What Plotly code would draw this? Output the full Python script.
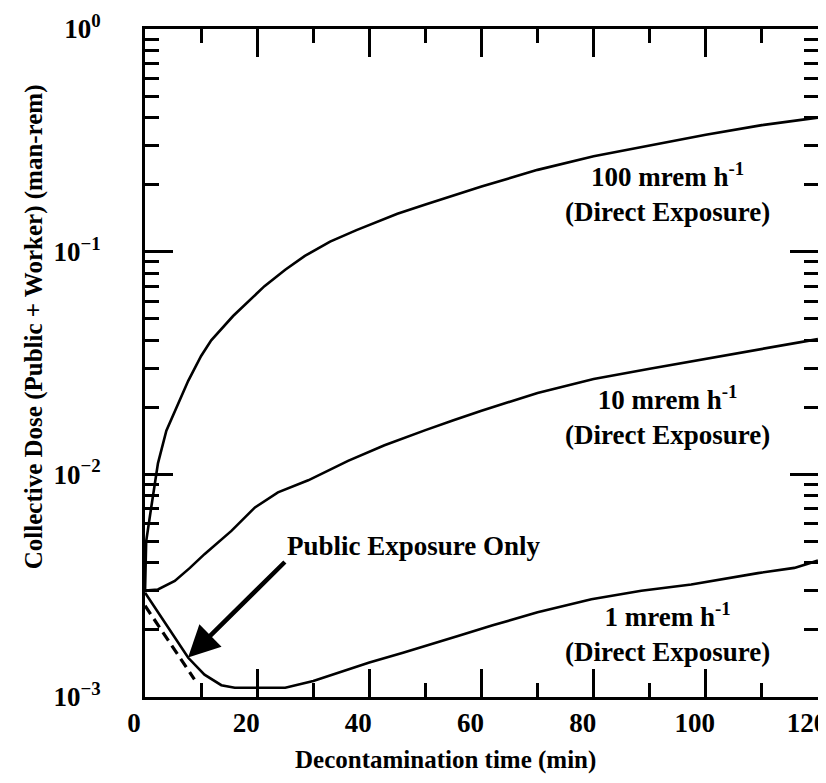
import plotly.graph_objects as go

# ---- data ----
x_100 = [0, 0.2, 1.1, 2.3, 3.8, 5.6, 7.7, 10, 11.8, 15.7, 21.3, 25, 28.5, 33, 37.7, 45, 50, 60, 70, 80, 90,
         100, 110, 120]
y_100 = [0.003, 0.005, 0.0071, 0.0112, 0.0157, 0.020, 0.0263, 0.034, 0.040, 0.0514, 0.070, 0.083, 0.0957,
         0.111, 0.125, 0.148, 0.163, 0.196, 0.233, 0.268, 0.300, 0.335, 0.370, 0.40]

x_10 = [0, 2.3, 5.3, 8, 10.6, 15.4, 19.6, 23.7, 29.1, 36.2, 42.7, 46.9, 50, 55, 60, 70, 80, 90, 100, 110, 120]
y_10 = [0.00301, 0.00304, 0.00332, 0.0038, 0.00438, 0.00557, 0.0071, 0.0083, 0.0094, 0.0115, 0.0135, 0.0148,
        0.0158, 0.0175, 0.0193, 0.0232, 0.0268, 0.0298, 0.0330, 0.0368, 0.0405]

x_1 = [0, 4, 7.7, 10.6, 13.6, 16, 20, 25, 30, 35, 40, 46, 50, 55.8, 62, 70, 79.6, 88.5, 97.4, 103.3, 109.3,
       115.8, 120]
y_1 = [0.00294, 0.00207, 0.0015, 0.00126, 0.00113, 0.0011, 0.0011, 0.0011, 0.00118, 0.0013, 0.00143, 0.00158,
       0.0017, 0.00188, 0.0021, 0.0024, 0.00275, 0.003, 0.0032, 0.0034, 0.0036, 0.0038, 0.0041]

x_public = [0, 8.8]
y_public = [0.00257, 0.0012]

x_ticks = [0, 20, 40, 60, 80, 100, 120]
x_ticktext = ["0", "20", "40", "60", "80", "100", "120"]
x_minor = [10, 30, 50, 70, 90, 110]
y_ticks = [0.001, 0.01, 0.1, 1]
y_ticktext = ["10<sup>−3</sup>", "10<sup>−2</sup>", "10<sup>−1</sup>", "10<sup>0</sup>"]
y_minor = [m * 10.0 ** e for e in (-3, -2, -1) for m in range(2, 10)]

FONT = "Liberation Serif, Times New Roman, Times, serif"


def b(s):
    return "<b>" + s + "</b>"


fig = go.Figure()
line = dict(color="black", width=2.6)
fig.add_trace(go.Scatter(x=x_100, y=y_100, mode="lines", line=line, showlegend=False))
fig.add_trace(go.Scatter(x=x_10, y=y_10, mode="lines", line=line, showlegend=False))
fig.add_trace(go.Scatter(x=x_1, y=y_1, mode="lines", line=line, showlegend=False))
fig.add_trace(go.Scatter(x=x_public, y=y_public, mode="lines",
                         line=dict(color="black", width=3.2, dash="10px,6px"), showlegend=False))

axis_common = dict(showline=True, linecolor="black", linewidth=3, mirror="allticks",
                   ticks="inside", ticklen=28, tickwidth=3, tickcolor="black",
                   showgrid=False, zeroline=False, automargin=False, ticklabeloverflow="allow",
                   tickfont=dict(family=FONT, size=27, color="black"))

fig.update_xaxes(range=[-0.01, 120.01], tickvals=x_ticks, ticktext=[b(t) for t in x_ticktext],
                 ticklabelshift=-11,
                 minor=dict(tickvals=x_minor, ticks="inside", ticklen=14, tickwidth=3, tickcolor="black"),
                 **axis_common)
fig.update_yaxes(type="log", range=[-3, 0], tickvals=y_ticks, ticktext=[b(t) for t in y_ticktext],
                 ticklabelstandoff=36,
                 minor=dict(tickvals=y_minor, ticks="inside", ticklen=14, tickwidth=3, tickcolor="black"),
                 **axis_common)

ann_font = dict(family=FONT, size=27, color="black")
labels = [("100 mrem h<sup>-1</sup>", "(Direct Exposure)", 93.1, -0.735),
          ("10 mrem h<sup>-1</sup>", "(Direct Exposure)", 93.1, -1.736),
          ("1 mrem h<sup>-1</sup>", "(Direct Exposure)", 93.1, -2.711)]
for l1, l2, xx, yy in labels:
    fig.add_annotation(x=xx, y=yy, xref="x", yref="y", text=b(l1) + "<br>" + b(l2), showarrow=False,
                       font=ann_font, xanchor="center", yanchor="middle", align="center")

fig.add_annotation(x=25, y=-2.320, xref="x", yref="y", text=b("Public Exposure Only"), showarrow=False,
                   font=ann_font, xanchor="left", yanchor="middle")
fig.add_annotation(x=7.67, y=-2.823, ax=25.2, ay=-2.387, xref="x", yref="y", axref="x", ayref="y",
                   text="", showarrow=True, arrowhead=2, arrowsize=1.4, arrowwidth=4.5, arrowcolor="black")

fig.add_annotation(x=0.446, y=-0.094, xref="paper", yref="paper", text=b("Decontamination time (min)"),
                   showarrow=False, font=dict(family=FONT, size=25, color="black"),
                   xanchor="center", yanchor="middle")
fig.add_annotation(x=-0.165, y=0.555, xref="paper", yref="paper", textangle=-90,
                   text=b("Collective Dose (Public + Worker) (man-rem)"),
                   showarrow=False, font=dict(family=FONT, size=25, color="black"),
                   xanchor="center", yanchor="middle")

fig.update_layout(template="none", width=826, height=783,
                  margin=dict(l=137, r=16, t=21, b=94, autoexpand=False),
                  plot_bgcolor="white", paper_bgcolor="white", showlegend=False)

fig.write_html("out.html")
